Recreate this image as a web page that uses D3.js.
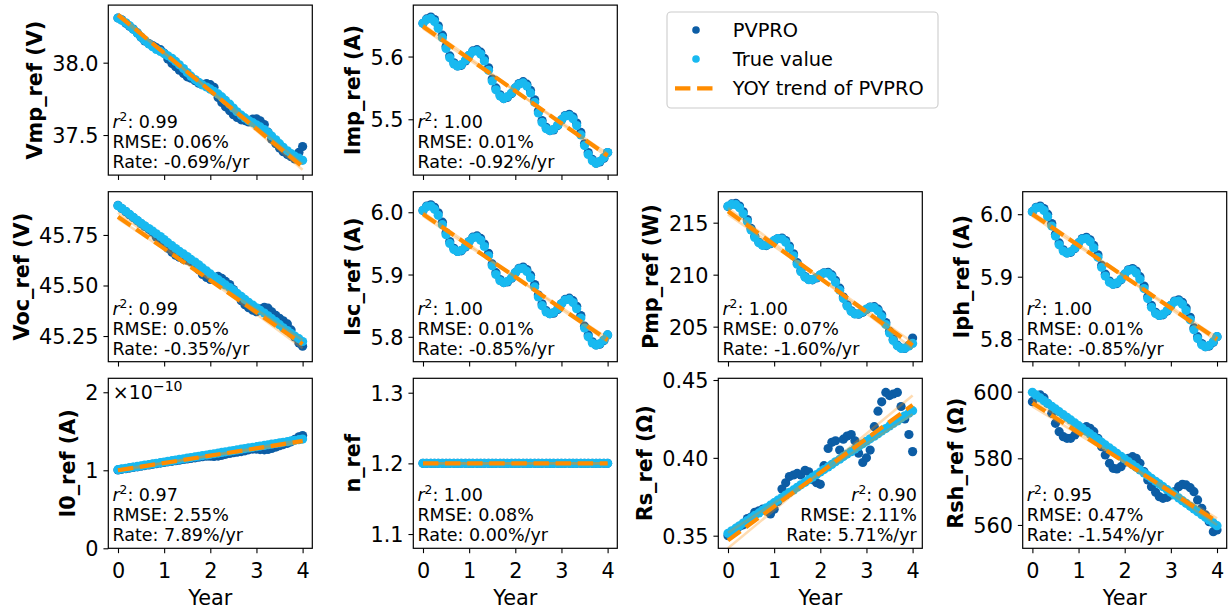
<!DOCTYPE html>
<html><head><meta charset="utf-8">
<script src="https://cdn.jsdelivr.net/npm/d3@7"></script>
<style>body{margin:0;background:#fff} svg{display:block} text{font-family:"DejaVu Sans",sans-serif}</style>
</head><body>
<script>
// ---------- data ----------
const years = [0,0.08,0.17,0.25,0.33,0.42,0.5,0.58,0.67,0.75,0.83,0.92,1,1.08,1.17,1.25,1.33,1.42,1.5,1.58,1.67,1.75,1.83,1.92,2,2.08,2.17,2.25,2.33,2.42,2.5,2.58,2.67,2.75,2.83,2.92,3,3.08,3.17,3.25,3.33,3.42,3.5,3.58,3.67,3.75,3.83,3.92,4];
const trendYears = [0, 4];
const xTicks = [0,1,2,3,4];

const vmpTrue = [38.309,38.294,38.276,38.255,38.231,38.205,38.178,38.153,38.129,38.110,38.092,38.078,38.063,38.048,38.030,38.009,37.985,37.959,37.932,37.907,37.883,37.864,37.846,37.832,37.817,37.802,37.784,37.763,37.739,37.713,37.686,37.661,37.637,37.618,37.600,37.586,37.571,37.556,37.538,37.517,37.493,37.467,37.440,37.415,37.391,37.372,37.354,37.340,37.325];
const vmpPvpro = [38.309,38.296,38.272,38.252,38.232,38.206,38.175,38.150,38.132,38.118,38.104,38.090,38.066,38.025,37.995,37.972,37.948,37.925,37.902,37.893,37.875,37.858,37.850,37.855,37.848,37.830,37.760,37.725,37.695,37.668,37.640,37.622,37.605,37.600,37.590,37.610,37.612,37.598,37.572,37.520,37.470,37.440,37.410,37.385,37.365,37.350,37.335,37.380,37.420];

const impTrue = [5.653,5.659,5.661,5.656,5.645,5.630,5.613,5.598,5.588,5.585,5.587,5.594,5.602,5.608,5.609,5.604,5.593,5.578,5.561,5.547,5.537,5.533,5.536,5.542,5.550,5.556,5.558,5.553,5.542,5.527,5.510,5.495,5.485,5.482,5.484,5.491,5.499,5.505,5.506,5.501,5.490,5.475,5.458,5.444,5.434,5.430,5.433,5.439,5.447];
const impPvpro = [5.653,5.660,5.663,5.659,5.649,5.634,5.616,5.601,5.590,5.585,5.586,5.593,5.602,5.609,5.611,5.607,5.597,5.582,5.564,5.550,5.539,5.533,5.535,5.541,5.550,5.557,5.560,5.556,5.546,5.531,5.513,5.498,5.487,5.482,5.483,5.490,5.499,5.506,5.508,5.504,5.494,5.479,5.461,5.447,5.436,5.430,5.432,5.438,5.447];

const vocTrue = [45.895,45.882,45.867,45.852,45.837,45.822,45.808,45.795,45.782,45.769,45.756,45.742,45.727,45.712,45.697,45.683,45.669,45.656,45.643,45.629,45.616,45.602,45.587,45.572,45.557,45.543,45.529,45.516,45.503,45.490,45.476,45.461,45.446,45.431,45.417,45.403,45.390,45.377,45.364,45.350,45.336,45.321,45.306,45.291,45.277,45.263,45.250,45.237,45.223];
const vocPvpro = [45.896,45.881,45.865,45.850,45.836,45.820,45.806,45.792,45.778,45.764,45.740,45.722,45.703,45.684,45.665,45.650,45.640,45.630,45.625,45.618,45.605,45.578,45.555,45.540,45.530,45.535,45.545,45.535,45.520,45.505,45.480,45.455,45.425,45.405,45.390,45.378,45.370,45.385,45.392,45.388,45.370,45.352,45.338,45.325,45.310,45.280,45.245,45.215,45.200];

const iscTrue = [6.003,6.009,6.010,6.005,5.995,5.980,5.964,5.950,5.940,5.937,5.939,5.945,5.953,5.959,5.960,5.955,5.945,5.930,5.914,5.900,5.890,5.887,5.889,5.895,5.903,5.909,5.910,5.905,5.895,5.880,5.864,5.850,5.840,5.837,5.839,5.845,5.853,5.859,5.860,5.855,5.845,5.830,5.814,5.800,5.790,5.787,5.789,5.795,5.803];
const iscPvpro = [6.003,6.010,6.012,6.008,5.999,5.984,5.967,5.953,5.942,5.937,5.938,5.944,5.953,5.960,5.962,5.958,5.949,5.934,5.917,5.903,5.892,5.887,5.888,5.894,5.903,5.910,5.912,5.908,5.899,5.884,5.867,5.853,5.842,5.837,5.838,5.844,5.853,5.860,5.862,5.858,5.849,5.834,5.817,5.803,5.792,5.787,5.788,5.794,5.803];

const pmpTrue = [216.59,216.76,216.73,216.43,215.86,215.11,214.30,213.58,213.06,212.82,212.83,213.03,213.29,213.46,213.43,213.13,212.56,211.81,211.00,210.28,209.76,209.52,209.53,209.73,209.99,210.16,210.13,209.83,209.26,208.51,207.70,206.98,206.46,206.22,206.23,206.43,206.69,206.86,206.83,206.53,205.96,205.21,204.40,203.68,203.16,202.92,202.93,203.13,203.39];
const pmpPvpro = [216.55,216.80,216.85,216.60,216.05,215.30,214.45,213.70,213.12,212.85,212.80,212.98,213.25,213.48,213.52,213.28,212.75,212.00,211.15,210.40,209.82,209.54,209.50,209.68,209.96,210.18,210.22,209.98,209.45,208.70,207.85,207.10,206.52,206.24,206.20,206.38,206.66,206.88,206.92,206.68,206.15,205.40,204.55,203.80,203.22,202.94,202.90,203.20,203.90];

const iphTrue = [6.004,6.010,6.011,6.006,5.996,5.981,5.965,5.951,5.941,5.938,5.940,5.946,5.954,5.960,5.961,5.956,5.946,5.931,5.915,5.901,5.891,5.888,5.890,5.896,5.904,5.910,5.911,5.906,5.896,5.881,5.865,5.851,5.841,5.838,5.840,5.846,5.854,5.860,5.861,5.856,5.846,5.831,5.815,5.801,5.791,5.788,5.790,5.796,5.804];
const iphPvpro = [6.004,6.011,6.013,6.009,6.000,5.985,5.968,5.954,5.943,5.938,5.939,5.945,5.954,5.961,5.963,5.959,5.950,5.935,5.918,5.904,5.893,5.888,5.889,5.895,5.904,5.911,5.913,5.909,5.900,5.885,5.868,5.854,5.843,5.838,5.839,5.845,5.854,5.861,5.863,5.859,5.850,5.835,5.818,5.804,5.793,5.788,5.789,5.795,5.804];

// I0 in units of 1e-10 A
const i0True = [1.008,1.017,1.025,1.033,1.041,1.049,1.057,1.066,1.074,1.082,1.090,1.098,1.106,1.114,1.123,1.131,1.139,1.147,1.155,1.163,1.172,1.180,1.188,1.196,1.204,1.212,1.221,1.229,1.237,1.245,1.253,1.261,1.270,1.278,1.286,1.294,1.302,1.310,1.319,1.327,1.335,1.343,1.351,1.359,1.367,1.376,1.384,1.392,1.400];
const i0Pvpro = [1.005,1.012,1.020,1.028,1.036,1.044,1.052,1.060,1.068,1.076,1.084,1.092,1.100,1.108,1.115,1.122,1.130,1.138,1.146,1.152,1.160,1.168,1.175,1.180,1.180,1.178,1.182,1.192,1.205,1.215,1.225,1.232,1.240,1.250,1.262,1.272,1.272,1.265,1.262,1.268,1.280,1.298,1.315,1.330,1.345,1.365,1.395,1.430,1.445];

const nTrue = [1.2,1.2,1.2,1.2,1.2,1.2,1.2,1.2,1.2,1.2,1.2,1.2,1.2,1.2,1.2,1.2,1.2,1.2,1.2,1.2,1.2,1.2,1.2,1.2,1.2,1.2,1.2,1.2,1.2,1.2,1.2,1.2,1.2,1.2,1.2,1.2,1.2,1.2,1.2,1.2,1.2,1.2,1.2,1.2,1.2,1.2,1.2,1.2,1.2];
const nPvpro = [1.2,1.2,1.2,1.2,1.2,1.2,1.2,1.2,1.2,1.2,1.2,1.2,1.2,1.2,1.2,1.2,1.2,1.2,1.2,1.2,1.2,1.2,1.2,1.2,1.2,1.2,1.2,1.2,1.2,1.2,1.2,1.2,1.2,1.2,1.2,1.2,1.2,1.2,1.2,1.2,1.2,1.2,1.2,1.2,1.2,1.2,1.2,1.2,1.2];

const rsTrue = [0.3515,0.3531,0.3548,0.3564,0.3581,0.3597,0.3614,0.3630,0.3646,0.3663,0.3679,0.3696,0.3712,0.3728,0.3745,0.3761,0.3778,0.3794,0.3811,0.3827,0.3843,0.3860,0.3876,0.3893,0.3909,0.3925,0.3942,0.3958,0.3975,0.3991,0.4008,0.4024,0.4040,0.4057,0.4073,0.4090,0.4106,0.4122,0.4139,0.4155,0.4172,0.4188,0.4205,0.4221,0.4237,0.4254,0.4270,0.4287,0.4303];
const rsPvpro = [0.350,0.352,0.353,0.356,0.357,0.361,0.362,0.365,0.366,0.367,0.366,0.364,0.367,0.372,0.380,0.384,0.388,0.389,0.390,0.389,0.392,0.391,0.386,0.384,0.383,0.395,0.406,0.410,0.411,0.405,0.412,0.414,0.415,0.411,0.403,0.397,0.400,0.405,0.420,0.430,0.436,0.442,0.440,0.441,0.442,0.433,0.425,0.415,0.404];

const rshTrue = [599.8,599.0,598.1,597.3,596.5,595.6,594.8,594.0,593.1,592.3,591.5,590.6,589.8,589.0,588.1,587.3,586.5,585.6,584.8,584.0,583.1,582.3,581.5,580.6,579.8,579.0,578.1,577.3,576.5,575.6,574.8,574.0,573.1,572.3,571.5,570.6,569.8,569.0,568.1,567.3,566.5,565.6,564.8,564.0,563.1,562.3,561.5,560.6,559.8];
const rshPvpro = [597.0,598.8,599.0,598.2,596.5,593.5,590.5,588.0,586.5,586.0,586.0,587.0,588.0,589.0,589.5,589.0,588.0,586.0,583.5,581.0,578.5,577.0,576.8,577.5,578.8,580.0,580.5,580.0,578.5,576.0,573.5,571.5,569.8,568.5,568.0,568.3,569.0,570.0,571.5,572.2,572.0,571.2,570.0,567.5,565.0,563.0,561.0,558.0,558.5];

// YOY trend of PVPRO (value at year 0 and year 4) and its faint bound lines
const trendVmp = [38.33, 37.28], boundsVmp = [[38.34, 37.26],[38.32, 37.30]];
const trendImp = [5.648, 5.442], boundsImp = [[5.651, 5.440],[5.645, 5.445]];
const trendVoc = [45.84, 45.21], boundsVoc = [[45.86, 45.19],[45.83, 45.23]];
const trendIsc = [5.997, 5.795], boundsIsc = [[6.000, 5.792],[5.994, 5.798]];
const trendPmp = [216.1, 203.2], boundsPmp = [[216.4, 202.9],[215.8, 203.5]];
const trendIph = [6.0, 5.8], boundsIph = [[6.003, 5.797],[5.997, 5.803]];
const trendI0 = [1.0, 1.375], boundsI0 = [[0.99, 1.39],[1.01, 1.36]];
const trendN = [1.2, 1.2], boundsN = [[1.2, 1.2],[1.2, 1.2]];
const trendRs = [0.347, 0.434], boundsRs = [[0.342, 0.440],[0.352, 0.428]];
const trendRsh = [596.6, 561.0], boundsRsh = [[597.6, 560.0],[595.6, 562.0]];

// annotation stats
const r2Vals = ["0.99","1.00","0.99","1.00","1.00","1.00","0.97","1.00","0.90","0.95"];
const rmseVals = ["0.06%","0.01%","0.05%","0.01%","0.07%","0.01%","2.55%","0.08%","2.11%","0.47%"];
const rateVals = ["-0.69%/yr","-0.92%/yr","-0.35%/yr","-0.85%/yr","-1.60%/yr","-0.85%/yr","7.89%/yr","0.00%/yr","5.71%/yr","-1.54%/yr"];

const yLabels = ["Vmp_ref (V)","Imp_ref (A)","Voc_ref (V)","Isc_ref (A)","Pmp_ref (W)","Iph_ref (A)","I0_ref (A)","n_ref","Rs_ref (Ω)","Rsh_ref (Ω)"];
const yTickVals = [[37.5,38.0],[5.5,5.6],[45.25,45.50,45.75],[5.8,5.9,6.0],[205,210,215],[5.8,5.9,6.0],[0,1,2],[1.1,1.2,1.3],[0.35,0.40,0.45],[560,580,600]];
const yDomains = [[37.223,38.398],[5.411,5.682],[45.123,45.964],[5.760,6.033],[201.63,217.98],[5.764,6.036],[0,2.179],[1.0798,1.3204],[0.3419,0.4511],[553.0,604.0]];
const legendLabels = ["PVPRO","True value","YOY trend of PVPRO"];

// ---------- layout / style ----------
const panels = [
  {row:0,col:0,pv:vmpPvpro,tv:vmpTrue,tr:trendVmp,bd:boundsVmp,fmt:".1f"},
  {row:0,col:1,pv:impPvpro,tv:impTrue,tr:trendImp,bd:boundsImp,fmt:".1f"},
  {row:1,col:0,pv:vocPvpro,tv:vocTrue,tr:trendVoc,bd:boundsVoc,fmt:".2f"},
  {row:1,col:1,pv:iscPvpro,tv:iscTrue,tr:trendIsc,bd:boundsIsc,fmt:".1f"},
  {row:1,col:2,pv:pmpPvpro,tv:pmpTrue,tr:trendPmp,bd:boundsPmp,fmt:"d"},
  {row:1,col:3,pv:iphPvpro,tv:iphTrue,tr:trendIph,bd:boundsIph,fmt:".1f"},
  {row:2,col:0,pv:i0Pvpro,tv:i0True,tr:trendI0,bd:boundsI0,fmt:"d",offset:true},
  {row:2,col:1,pv:nPvpro,tv:nTrue,tr:trendN,bd:boundsN,fmt:".1f"},
  {row:2,col:2,pv:rsPvpro,tv:rsTrue,tr:trendRs,bd:boundsRs,fmt:".2f",annRight:true},
  {row:2,col:3,pv:rshPvpro,tv:rshTrue,tr:trendRsh,bd:boundsRsh,fmt:"d"}
];
const colLeft = [108.3, 413.3, 718.3, 1022.7];
const rowTop = [5.1, 191.7, 378.3];
const W = 204, H = 170;
const FS = 20.8, FS_ANN = 17.5, R = 4.6;
const C_DARK = "#0C5DA5", C_LIGHT = "#18B9F0", C_OR = "#FF8C00";
const TICK = 4.86, PAD = 4.86, LABELPAD = 5.56;
const DASH = "15.4,6.7";

const svg = d3.select("body").append("svg").attr("width",1231).attr("height",612);
svg.append("rect").attr("width",1231).attr("height",612).attr("fill","#fff");

panels.forEach((p,i)=>{
  const g = svg.append("g").attr("transform",`translate(${colLeft[p.col]},${rowTop[p.row]})`);
  const x = d3.scaleLinear().domain([-0.21,4.21]).range([0,W]);
  const y = d3.scaleLinear().domain(yDomains[i]).range([H,0]);
  g.append("rect").attr("width",W).attr("height",H).attr("fill","#fff");
  const cid = "clip"+i;
  g.append("clipPath").attr("id",cid).append("rect").attr("width",W).attr("height",H);
  const pg = g.append("g").attr("clip-path",`url(#${cid})`);
  pg.append("g").selectAll("circle").data(p.pv).join("circle")
    .attr("cx",(d,j)=>x(years[j])).attr("cy",d=>y(d)).attr("r",R).attr("fill",C_DARK);
  pg.append("g").selectAll("circle").data(p.tv).join("circle")
    .attr("cx",(d,j)=>x(years[j])).attr("cy",d=>y(d)).attr("r",R).attr("fill",C_LIGHT);
  const line = d3.line().x((d,j)=>x(trendYears[j])).y(d=>y(d));
  p.bd.forEach(b=>{
    pg.append("path").attr("d",line(b)).attr("fill","none").attr("stroke",C_OR)
      .attr("stroke-opacity",0.3).attr("stroke-width",2.6);
  });
  pg.append("path").attr("d",line(p.tr)).attr("fill","none").attr("stroke",C_OR)
    .attr("stroke-width",4.2).attr("stroke-dasharray",DASH);

  // frame
  g.append("rect").attr("width",W).attr("height",H).attr("fill","none").attr("stroke","#000").attr("stroke-width",1.2);

  // y axis
  const ya = g.append("g").call(d3.axisLeft(y).tickValues(yTickVals[i]).tickFormat(d3.format(p.fmt)).tickSize(TICK).tickPadding(PAD));
  ya.select(".domain").remove();
  ya.selectAll("line").attr("stroke","#000").attr("stroke-width",1.1);
  ya.selectAll("text").attr("font-size",FS).attr("font-family","DejaVu Sans").attr("fill","#000").attr("dy","0.36em");
  let maxW = 0;
  ya.selectAll("text").each(function(){ maxW = Math.max(maxW, this.getComputedTextLength()); });

  // x axis
  const bottomRow = p.row===2;
  const xa = g.append("g").attr("transform",`translate(0,${H})`)
    .call(d3.axisBottom(x).tickValues(xTicks).tickFormat(bottomRow? d3.format("d") : ()=>"").tickSize(TICK).tickPadding(PAD));
  xa.select(".domain").remove();
  xa.selectAll("line").attr("stroke","#000").attr("stroke-width",1.1);
  xa.selectAll("text").attr("font-size",FS).attr("font-family","DejaVu Sans").attr("fill","#000").attr("dy","0.95em");

  // y label
  const lx = -TICK-PAD-maxW-LABELPAD-0.236*FS;
  g.append("text").attr("transform",`translate(${lx},${H/2}) rotate(-90)`)
    .attr("text-anchor","middle").attr("font-size",FS).attr("font-weight","bold").attr("fill","#000")
    .text(yLabels[i]);

  // x label (upper rows: hidden under next row's axes)
  g.append("text").attr("x",W/2).attr("y",H+(bottomRow?56.9:34)).attr("text-anchor","middle")
    .attr("font-size",FS).attr("fill","#000").text("Year");

  // annotation
  const ax = p.annRight ? W-5.5 : 4.1;
  const anchor = p.annRight ? "end" : "start";
  const t1 = g.append("text").attr("x",ax).attr("y",H-47).attr("text-anchor",anchor).attr("font-size",FS_ANN).attr("fill","#000");
  t1.append("tspan").attr("font-style","italic").text("r");
  t1.append("tspan").attr("font-size",FS_ANN*0.7).attr("dy",-7).text("2");
  t1.append("tspan").attr("dy",7).text(": "+r2Vals[i]);
  g.append("text").attr("x",ax).attr("y",H-27).attr("text-anchor",anchor).attr("font-size",FS_ANN).attr("fill","#000").text("RMSE: "+rmseVals[i]);
  g.append("text").attr("x",ax).attr("y",H-7).attr("text-anchor",anchor).attr("font-size",FS_ANN).attr("fill","#000").text("Rate: "+rateVals[i]);

  if (p.offset){
    const ot = g.append("text").attr("x",4.5).attr("y",21).attr("font-size",19).attr("fill","#000");
    ot.append("tspan").text("×10");
    ot.append("tspan").attr("font-size",14).attr("dy",-8).text("−10");
  }
});

// legend
const lg = svg.append("g");
lg.append("rect").attr("x",667).attr("y",12).attr("width",271).attr("height",96).attr("rx",4)
  .attr("fill","#fff").attr("fill-opacity",0.8).attr("stroke","#cccccc").attr("stroke-width",1.1);
const legY = [30, 59, 88.3];
lg.append("circle").attr("cx",696).attr("cy",legY[0]).attr("r",3.8).attr("fill",C_DARK);
lg.append("circle").attr("cx",696).attr("cy",legY[1]).attr("r",3.8).attr("fill",C_LIGHT);
lg.append("line").attr("x1",675).attr("x2",712.5).attr("y1",legY[2]).attr("y2",legY[2])
  .attr("stroke",C_OR).attr("stroke-width",4.2).attr("stroke-dasharray",DASH);
legendLabels.forEach((s,k)=>{
  lg.append("text").attr("x",732.7).attr("y",legY[k]+0.36*19.4).attr("font-size",19.4).attr("fill","#000").text(s);
});
</script>
</body></html>
